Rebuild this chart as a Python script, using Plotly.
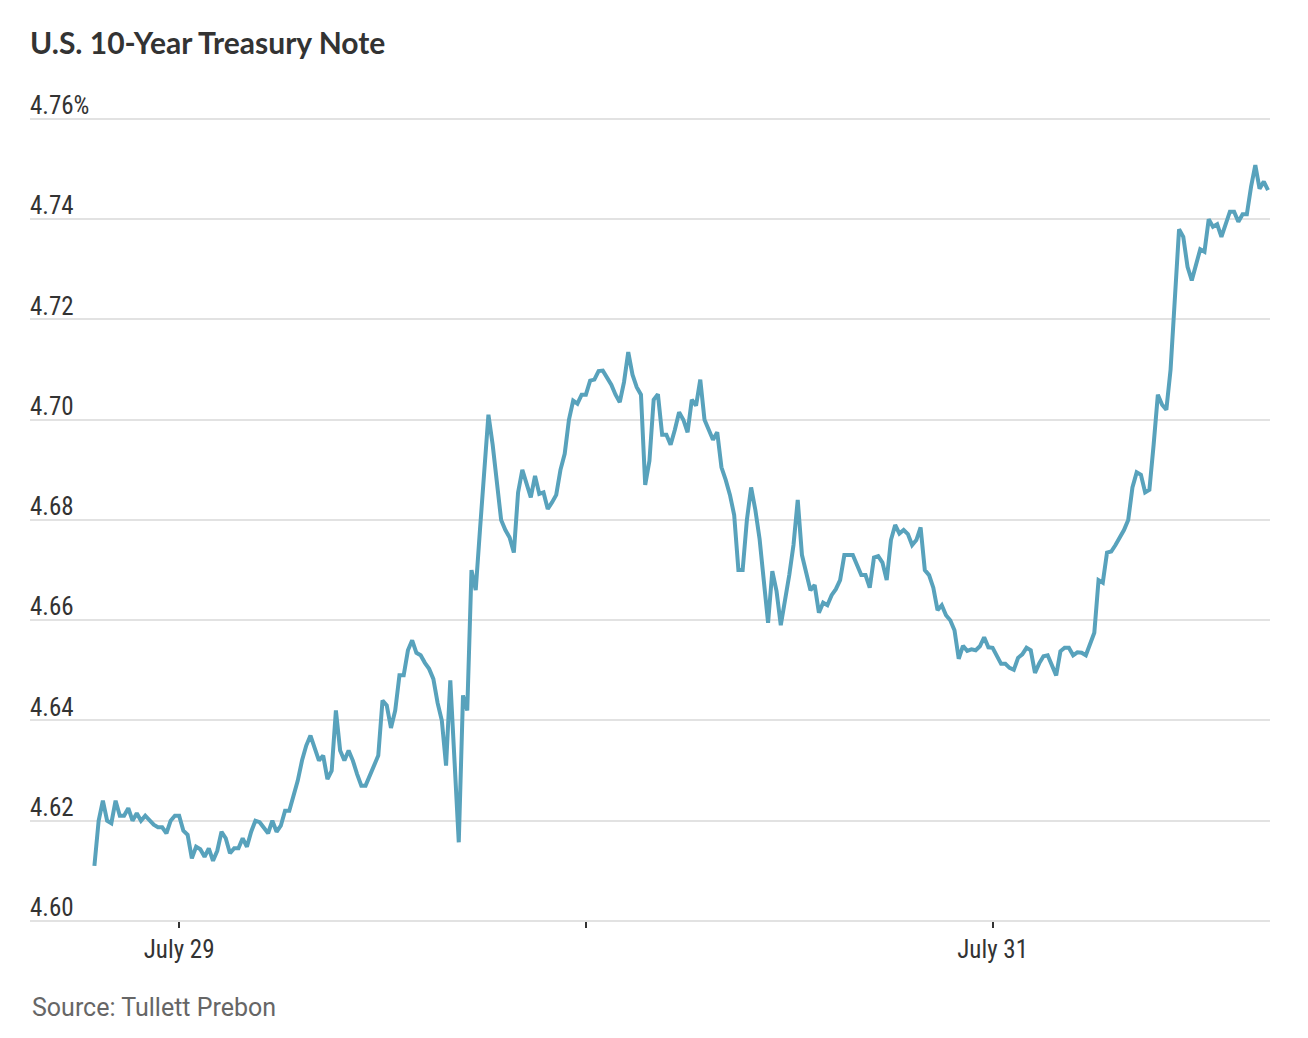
import pandas as pd
import plotly.graph_objects as go

# 10-year yield at 15-minute steps starting 7pm July 28
START = "2024-07-28 19:00"
STEP = "15min"

yields = [
    4.611, 4.620, 4.624, 4.620, 4.6195, 4.624, 4.621, 4.621,
    4.6225, 4.620, 4.6215, 4.620, 4.621, 4.620, 4.6192, 4.6187,
    4.6187, 4.6175, 4.620, 4.621, 4.621, 4.618, 4.6172, 4.6125,
    4.6148, 4.6143, 4.6128, 4.6145, 4.612, 4.614, 4.6178, 4.6165,
    4.6135, 4.6145, 4.6145, 4.6165, 4.6148, 4.6178, 4.620, 4.6197,
    4.6185, 4.6175, 4.620, 4.6178, 4.619, 4.622, 4.622, 4.625,
    4.628, 4.632, 4.635, 4.637, 4.6345, 4.632, 4.633, 4.6283,
    4.630, 4.642, 4.634, 4.632, 4.634, 4.632, 4.6293, 4.627,
    4.627, 4.629, 4.631, 4.633, 4.644, 4.643, 4.6385, 4.642,
    4.649, 4.649, 4.654, 4.656, 4.6535, 4.653, 4.6515, 4.6503,
    4.6483, 4.6435, 4.640, 4.631, 4.648, 4.631, 4.6157, 4.645,
    4.642, 4.670, 4.666, 4.678, 4.690, 4.701, 4.695, 4.688,
    4.680, 4.678, 4.6765, 4.6735, 4.6855, 4.690, 4.687, 4.6845,
    4.6888, 4.6852, 4.6855, 4.6822, 4.6835, 4.685, 4.690, 4.6932,
    4.700, 4.7038, 4.7032, 4.705, 4.705, 4.7078, 4.708, 4.7097,
    4.7098, 4.7083, 4.707, 4.705, 4.7035, 4.7075, 4.7135, 4.709,
    4.7065, 4.705, 4.687, 4.6918, 4.704, 4.7051, 4.697, 4.697,
    4.695, 4.698, 4.7015, 4.700, 4.6975, 4.704, 4.7028, 4.708,
    4.700, 4.698, 4.696, 4.6975, 4.6905, 4.688, 4.685, 4.681,
    4.670, 4.670, 4.680, 4.6865, 4.682, 4.6762, 4.668, 4.6595,
    4.6698, 4.6658, 4.659, 4.6635, 4.669, 4.675, 4.684, 4.673,
    4.6697, 4.666, 4.667, 4.6615, 4.6635, 4.663, 4.665, 4.6662,
    4.668, 4.673, 4.673, 4.673, 4.671, 4.669, 4.669, 4.6665,
    4.6725, 4.6728, 4.6715, 4.668, 4.676, 4.679, 4.6773, 4.678,
    4.6772, 4.675, 4.676, 4.6785, 4.670, 4.669, 4.6665, 4.662,
    4.663, 4.661, 4.660, 4.658, 4.6523, 4.6549, 4.6539, 4.6542,
    4.654, 4.6548, 4.6566, 4.6546, 4.6545, 4.6527, 4.6513, 4.6513,
    4.6505, 4.6501, 4.6525, 4.6532, 4.6545, 4.654, 4.6495, 4.6514,
    4.6528, 4.653, 4.651, 4.649, 4.6538, 4.6545, 4.6545, 4.653,
    4.6536, 4.6535, 4.653, 4.6553, 4.6575, 4.668, 4.6675, 4.6735,
    4.6737, 4.675, 4.6765, 4.678, 4.680, 4.6865, 4.6895, 4.689,
    4.6855, 4.686, 4.695, 4.705, 4.703, 4.702, 4.710, 4.724,
    4.738, 4.7365, 4.7305, 4.7278, 4.731, 4.734, 4.7335, 4.740,
    4.7385, 4.739, 4.7365, 4.739, 4.7415, 4.7415, 4.7395, 4.741,
    4.741, 4.7465, 4.7508, 4.7461, 4.7475, 4.7458,
]

y_ticks = [4.60, 4.62, 4.64, 4.66, 4.68, 4.70, 4.72, 4.74, 4.76]
y_tick_text = ["4.60", "4.62", "4.64", "4.66", "4.68", "4.70", "4.72", "4.74", "4.76%"]
y_range = [4.598, 4.76718]  # a little slack both ends so inside labels aren't hidden

x_ticks = ["2024-07-29", "2024-07-30", "2024-07-31"]
x_tick_text = ["July 29", "", "July 31"]
x_range = ["2024-07-28 15:12", "2024-07-31 16:22"]

times = pd.date_range(START, periods=len(yields), freq=STEP)

NARROW = "Roboto Condensed, Liberation Sans Narrow, sans-serif"
GRID = "#e2e2e2"
INK = "#333333"

# x axis sits on the 4.60 line, not on the bottom of the plot area
x_axis_pos = (y_ticks[0] - y_range[0]) / (y_range[1] - y_range[0])

fig = go.Figure()
fig.add_trace(go.Scatter(
    x=times, y=yields, mode="lines",
    line=dict(color="#58a2bc", width=4),
    hoverinfo="skip",
))

fig.update_layout(
    width=1300, height=1030,
    margin=dict(l=22, r=38, t=75, b=107),
    plot_bgcolor="white", paper_bgcolor="white",
    showlegend=False,
    title=dict(
        text="<b>U.S. 10-Year Treasury Note</b>",
        font=dict(family="Lato, Noto Sans, sans-serif", size=30, color=INK),
        xref="paper", x=0, xanchor="left",
        yref="container", y=1 - 35 / 1030, yanchor="middle",
    ),
    xaxis=dict(
        range=x_range,
        anchor="free", position=x_axis_pos,
        tickvals=x_ticks, ticktext=x_tick_text,
        showgrid=False, zeroline=False,
        showline=True, linecolor=GRID, linewidth=2,
        ticks="outside", ticklen=6, tickwidth=2, tickcolor=INK,
        tickfont=dict(family=NARROW, size=25, color=INK),
    ),
    yaxis=dict(
        range=y_range,
        tickvals=y_ticks, ticktext=y_tick_text,
        ticklabelposition="inside top",
        ticklabelshift=4, ticklabelstandoff=-3,
        showgrid=True, gridcolor=GRID, gridwidth=2,
        zeroline=False, showline=False, ticks="",
        tickfont=dict(family=NARROW, size=25, color=INK),
    ),
    annotations=[dict(
        text="Source: Tullett Prebon",
        xref="paper", x=0, xanchor="left",
        yref="paper", y=-77 / 848, yanchor="middle",
        showarrow=False,
        font=dict(family="Roboto, Lato, sans-serif", size=25, color="#666666"),
    )],
)

fig.write_html("out.html")
